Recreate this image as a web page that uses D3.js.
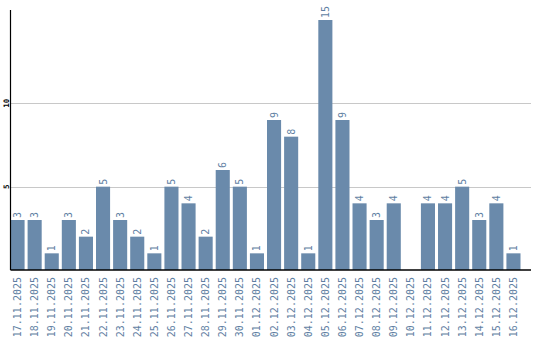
<!DOCTYPE html>
<html><head><meta charset="utf-8">
<script src="https://cdn.jsdelivr.net/npm/d3@7"></script>
<style>body{margin:0;background:#fff}</style>
</head><body>
<svg id="c" width="540" height="340"></svg>
<script>
const categories = ["17.11.2025","18.11.2025","19.11.2025","20.11.2025","21.11.2025","22.11.2025","23.11.2025","24.11.2025","25.11.2025","26.11.2025","27.11.2025","28.11.2025","29.11.2025","30.11.2025","01.12.2025","02.12.2025","03.12.2025","04.12.2025","05.12.2025","06.12.2025","07.12.2025","08.12.2025","09.12.2025","10.12.2025","11.12.2025","12.12.2025","13.12.2025","14.12.2025","15.12.2025","16.12.2025"];
const values = [3,3,1,3,2,5,3,2,1,5,4,2,6,5,1,9,8,1,15,9,4,3,4,0,4,4,5,3,4,1];
const yTicks = [5,10];

(function(){
const svg = d3.select("#c");
const mLeft = 10.5, mRight = 531, mTop = 10, mBottom = 270;
const x = d3.scaleBand().domain(categories).range([mLeft, mLeft + 17*30]).paddingInner(3/17).paddingOuter(0).align(0);
const y = d3.scaleLinear().domain([0, 15.6]).range([mBottom, mTop]);
const color = "#6a8aab", textColor = "#5f7fa3";
const data = values.map((v,i)=>({v,c:categories[i]})).filter(d=>d.v>0);

svg.append("g").selectAll("line").data(yTicks).join("line")
  .attr("x1", mLeft).attr("x2", mRight)
  .attr("y1", d => Math.round(y(d)) + 0.5).attr("y2", d => Math.round(y(d)) + 0.5)
  .attr("stroke", "#c8c8c8").attr("stroke-width", 1);

svg.append("g").selectAll("rect").data(data).join("rect")
  .attr("x", d => x(d.c)).attr("width", x.bandwidth())
  .attr("y", d => y(d.v)).attr("height", d => y(0) - y(d.v))
  .attr("fill", color);

svg.append("g").selectAll("text").data(data).join("text")
  .attr("transform", d => `translate(${x(d.c) + x.bandwidth()/2 + 3.5},${y(d.v) - 2}) rotate(-90)`)
  .attr("font-family", "DejaVu Sans Mono").attr("font-size", "10px")
  .attr("fill", textColor).text(d => d.v);

const yAxis = d3.axisLeft(y).tickValues(yTicks).tickSize(0).tickPadding(0);
const gy = svg.append("g").attr("transform", `translate(${mLeft},0)`).call(yAxis);
gy.select(".domain").attr("stroke", "#000").attr("stroke-width", 1.2).attr("d", `M0,${mTop}V${mBottom}`);
gy.selectAll(".tick").attr("transform", null);
gy.selectAll("text").attr("x", null).attr("y", null).attr("dy", null)
  .attr("text-anchor", "middle")
  .attr("transform", d => `translate(-2,${y(d)}) rotate(-90)`)
  .attr("font-family", "DejaVu Sans Mono").attr("font-size", "7.5px").attr("font-weight", "bold").attr("fill", "#000");

const xAxis = d3.axisBottom(x).tickSize(0).tickPadding(0);
const gx = svg.append("g").attr("transform", `translate(0,${mBottom})`).call(xAxis);
gx.select(".domain").attr("stroke", "#000").attr("stroke-width", 1.5).attr("d", `M${mLeft},0H${mRight}`);
gx.selectAll("text").attr("y", null).attr("dy", null)
  .attr("text-anchor", "end")
  .attr("transform", `translate(3.5,7) rotate(-90)`)
  .attr("font-family", "DejaVu Sans Mono").attr("font-size", "10px").attr("fill", textColor);
})();
</script>
</body></html>
